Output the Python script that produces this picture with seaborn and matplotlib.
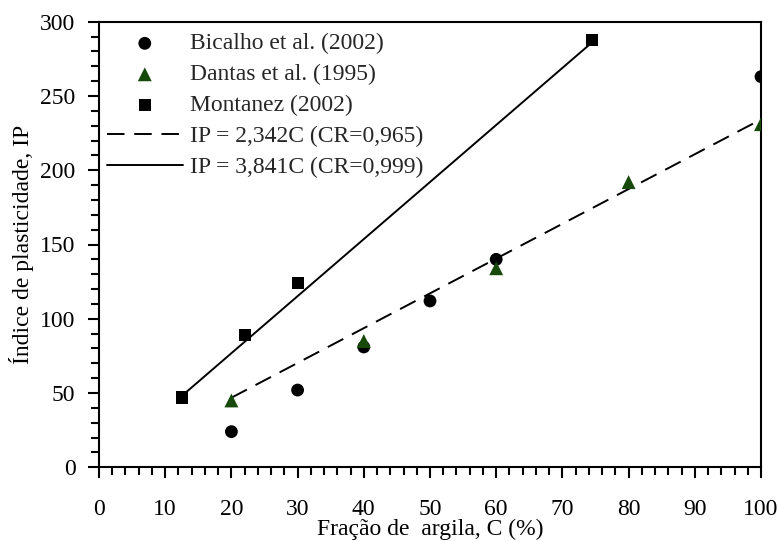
import matplotlib
matplotlib.use("Agg")
import matplotlib.pyplot as plt
from matplotlib.ticker import MultipleLocator
import seaborn as sns
import numpy as np

# ---- data ----
bicalho_x = [20, 30, 40, 50, 60, 100]
bicalho_y = [24, 52, 81, 112, 140, 263]
dantas_x = [20, 40, 60, 80, 100]
dantas_y = [45, 85, 134, 192, 231]
montanez_x = [12.5, 22, 30, 74.5]
montanez_y = [47, 89, 124, 288]

fit1_slope = 2.342
fit1_x = [20, 100]
fit2_slope = 3.841
fit2_x = [12.5, 74.5]

labels = ["Bicalho et al. (2002)", "Dantas et al. (1995)", "Montanez (2002)",
          "IP = 2,342C (CR=0,965)", "IP = 3,841C (CR=0,999)"]
x_label = "Fração de  argila, C (%)"
y_label = "Índice de plasticidade, IP"

sns.set_style("white")
plt.rcParams['font.family'] = ['Liberation Serif', 'DejaVu Serif']

fig = plt.figure(figsize=(7.78, 5.41), dpi=100)
ax = fig.add_axes([99/778, 1 - 467.3/541, (761 - 99)/778, (467.3 - 21.7)/541])

FS = 17
green = "#174a0a"
sns.scatterplot(x=bicalho_x, y=bicalho_y, ax=ax, marker="o", color="black",
                s=85, edgecolor="none", label=labels[0], zorder=3)
sns.scatterplot(x=dantas_x, y=dantas_y, ax=ax, marker="^", color=green,
                s=100, edgecolor="none", label=labels[1], zorder=3)
sns.scatterplot(x=montanez_x, y=montanez_y, ax=ax, marker="s", color="black",
                s=75, edgecolor="none", label=labels[2], zorder=3)

f1x = np.array(fit1_x, dtype=float)
f2x = np.array(fit2_x, dtype=float)
sns.lineplot(x=f1x, y=fit1_slope * f1x, ax=ax, color="black", lw=1.4,
             label=labels[3], zorder=2)
ax.lines[-1].set_dashes([9, 5])
sns.lineplot(x=f2x, y=fit2_slope * f2x, ax=ax, color="black", lw=1.4,
             label=labels[4], zorder=2)

ax.set_xlim(0, 100)
ax.set_ylim(0, 300)
ax.xaxis.set_major_locator(MultipleLocator(10))
ax.xaxis.set_minor_locator(MultipleLocator(2))
ax.yaxis.set_major_locator(MultipleLocator(50))
ax.yaxis.set_minor_locator(MultipleLocator(10))

for sp in ax.spines.values():
    sp.set_visible(True)
    sp.set_color("black")
    sp.set_linewidth(1.5)

ax.tick_params(axis="both", which="both", direction="out", color="black",
               bottom=True, left=True, top=False, right=False, labelsize=FS,
               labelcolor="black")
ax.tick_params(axis="both", which="major", length=8, width=1.5)
ax.tick_params(axis="both", which="minor", length=5.5, width=1.5)
ax.tick_params(axis="x", which="major", pad=15)
ax.tick_params(axis="y", which="major", pad=9)

ax.set_xlabel(x_label, fontsize=FS, color="black", labelpad=-1)
ax.set_ylabel(y_label, fontsize=FS, color="black", labelpad=4)

handles, lbls = ax.get_legend_handles_labels()
order = [lbls.index(l) for l in labels]
leg = ax.legend([handles[i] for i in order], [lbls[i] for i in order],
                loc="upper left", bbox_to_anchor=(107/778, 1 - 33/541),
                bbox_transform=fig.transFigure, frameon=False, fontsize=FS,
                handlelength=3.2, handletextpad=0.3, borderpad=0,
                borderaxespad=0, labelspacing=0.4, scatterpoints=1)

fig.savefig("out.png", dpi=100, facecolor="white")
